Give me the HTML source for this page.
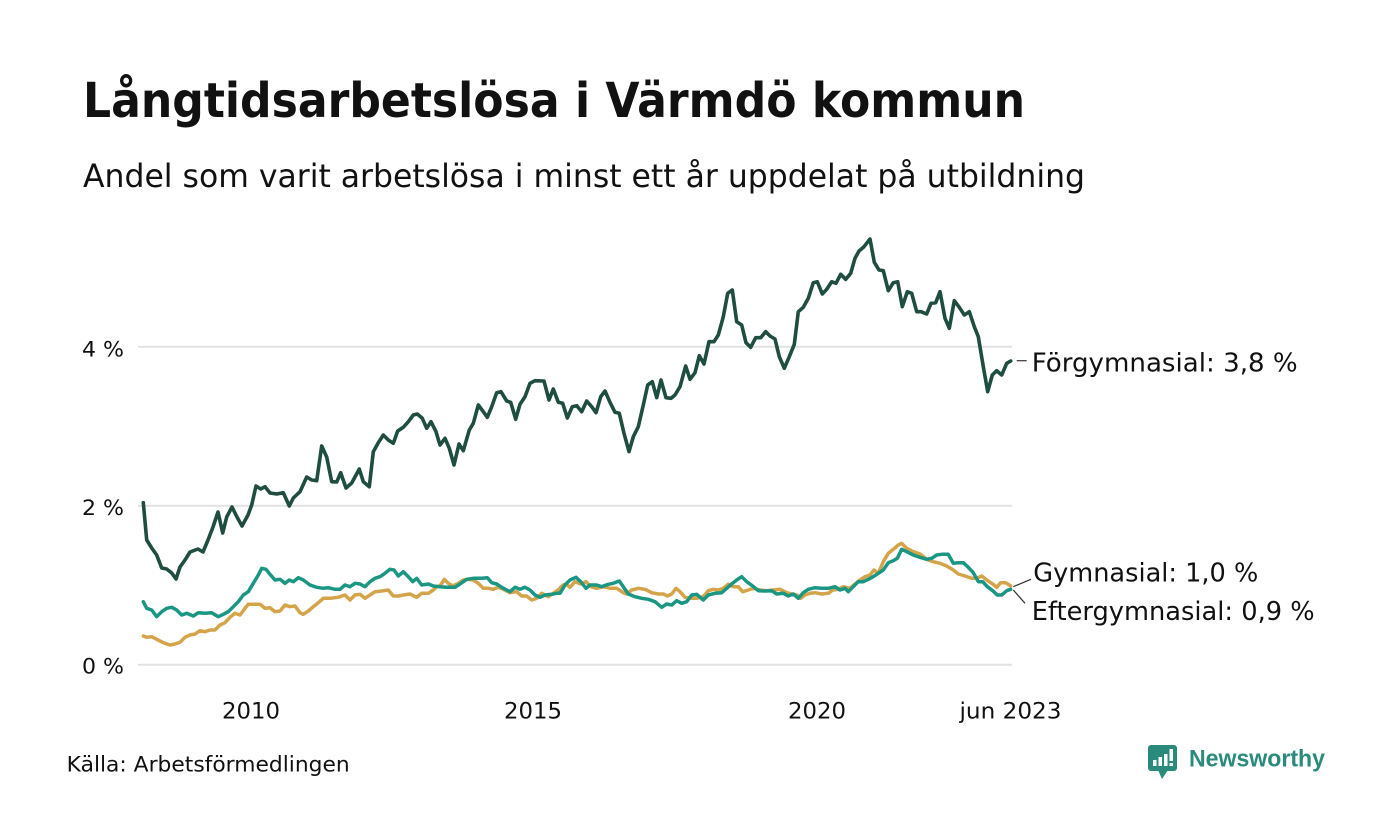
<!DOCTYPE html>
<html>
<head>
<meta charset="utf-8">
<style>
  html, body { margin:0; padding:0; background:#ffffff; }
  svg { display:block; }
  text { font-family: "DejaVu Sans", "Liberation Sans", sans-serif; fill:#111111; }
</style>
</head>
<body>
<svg width="1400" height="840" viewBox="0 0 1400 840" xmlns="http://www.w3.org/2000/svg">
  <rect x="0" y="0" width="1400" height="840" fill="#ffffff"/>

  <!-- Title & subtitle -->
  <text x="83" y="117" font-size="48" font-weight="bold" textLength="942" lengthAdjust="spacingAndGlyphs">Långtidsarbetslösa i Värmdö kommun</text>
  <text x="83" y="187" font-size="32" textLength="1002" lengthAdjust="spacingAndGlyphs">Andel som varit arbetslösa i minst ett år uppdelat på utbildning</text>

  <!-- Gridlines -->
  <g stroke="#e2e2e2" stroke-width="2">
    <line x1="138" y1="346.7" x2="1012" y2="346.7"/>
    <line x1="138" y1="505.7" x2="1012" y2="505.7"/>
    <line x1="138" y1="664.7" x2="1012" y2="664.7"/>
  </g>

  <!-- Y labels -->
  <g font-size="21">
    <text x="82" y="356.7" textLength="42" lengthAdjust="spacingAndGlyphs">4 %</text>
    <text x="82" y="515" textLength="42" lengthAdjust="spacingAndGlyphs">2 %</text>
    <text x="82" y="673.3" textLength="42" lengthAdjust="spacingAndGlyphs">0 %</text>
  </g>

  <!-- X labels -->
  <g font-size="22">
    <text x="222" y="718.3" textLength="58" lengthAdjust="spacingAndGlyphs">2010</text>
    <text x="504" y="718.3" textLength="58" lengthAdjust="spacingAndGlyphs">2015</text>
    <text x="788" y="718.3" textLength="58" lengthAdjust="spacingAndGlyphs">2020</text>
    <text x="959.5" y="718.3" textLength="102" lengthAdjust="spacingAndGlyphs">jun 2023</text>
  </g>

  <!-- Gold: Gymnasial -->
  <polyline fill="none" stroke="#d4a44a" stroke-width="3.5" stroke-linejoin="round" stroke-linecap="round"
    points="143.3,636 146.7,637.3 151.7,636.7 156.7,639.3 163.3,642.7 170,645 175,644 180,642.3 185,637.3 190,635 195,634 200,630.7 205,631.7 210,630 215,630 220,625 225,622.7 230,617.3 235,613.3 240,615 245,608.3 248.3,604.3 253.3,604.3 260,604.3 265,608.3 270,607.7 275,611.7 280,611 285,605 290,606.7 295,606 300,612.7 303.3,614.3 308.3,611 313.3,606.7 318.3,602.7 323.3,598.3 330,598.3 338.3,597.3 345,595 350,600 355,595 360,594.3 365,598.3 370,595 375,591.7 381.7,591 388.3,590 393.3,596 398.3,596 403.3,595 410,594 416.7,597.3 421.7,593.3 428.3,593.3 433.3,590 436.7,586.7 440,586 444.3,579.3 448.3,583.3 452.7,586 458.3,583.3 463.3,580 468.3,579.3 473.3,580 478.3,583.3 483.3,588.3 488.3,588.3 493.3,589.3 498.3,587.3 503.3,589.3 510,592.7 516.7,591.7 521.7,596 526.7,596 531.7,600 536.7,598.3 541.7,593.3 548.3,596.7 553.3,593.3 558.3,590 563,585 566,584 570,587.3 575,581.7 580.7,584 586,581.7 590.7,586.7 596.7,588.3 603.3,586.7 610,588.3 616.7,588.3 623.3,592.7 626.7,594 631.7,590 638.3,588.3 645,589.3 651.7,592.7 658.3,594 663.3,594 667.3,596 671.7,594 676,588.3 680,591.7 685,597.3 690,598.3 696.7,598.3 703.3,596.7 708.3,590.7 713.3,589.3 718.3,590 723.3,588.3 728.3,584.3 733.3,586.7 738.3,586.7 742.7,591.7 748.3,590 753.3,588.3 760,590 766.7,590.7 773.3,590 780,589.3 786.7,592.7 791.7,594 796.7,595 800.7,598.3 805,595 810,593.3 815,592.7 821.7,594 828.3,593.3 832.7,590 838.3,589.3 843.3,586.7 850,588.3 855,584 860,580 865,576.7 870,575 874,570 878.3,573.3 883.3,561.7 888.3,553.3 893.3,549.3 898.3,545 901.7,543.3 906.7,548.3 913.3,551.7 920,554 926.7,559.3 933.3,561.7 940,563.3 946.7,566 953.3,570 958.3,574 965,576 971.7,578.3 976.7,578.3 981.7,576 986.7,580 991.7,583.3 996.7,587.3 1000.7,582.7 1005.7,582.7 1010.7,586"/>

  <!-- Teal: Eftergymnasial -->
  <polyline fill="none" stroke="#1a9683" stroke-width="3.5" stroke-linejoin="round" stroke-linecap="round"
    points="143.3,601.7 146.7,608.3 151.7,610 156.7,616.7 161.7,611.7 166.7,608.3 171.7,607.3 176.7,610 181.7,615 186.7,613.3 193.3,616 198.3,612.7 205,613.3 211.7,612.7 218.3,616.7 223.3,614.3 228.3,611.7 233.3,606.7 238.3,601.7 243.3,595 248.3,591.7 253.3,583.3 258.3,575 261.7,568.3 266,569.3 270,574.3 275,580 280,579.3 285,583.3 289.3,580 293.3,581.7 298.3,577.7 303.3,580 310,585 316.7,587.3 323.3,588.3 328.3,587.7 335,589.3 340,589.3 345,585 350,586.7 355,583.3 360,584 365,586.7 370,581.7 375,578.3 380,576.7 385,573.3 390,569.3 394,570 398.3,576 403.3,571.7 408.3,576.7 412.7,581.7 416.7,578.3 421.7,585 428.3,584 433.3,586 440,586.7 446.7,587.3 455,587.3 460,584 466.7,579.3 473.3,578.3 481.7,578.3 487.3,577.7 491.7,582.7 496.7,584 501.7,587.3 510,591.7 515,587.3 520,589.3 525,587.3 530,590 535,595 540,597.3 545,595 551.7,594.3 556.7,593.3 560,593.3 565,585 570,580 576,577.3 580.7,581.7 586,588.3 590,585 596.7,585 601.7,586.7 608.3,584.3 613.3,583.3 619.3,581 623.3,586.7 628.3,594 635,596.7 641.7,598.3 648.3,599.3 655,601.7 661.7,607.3 666.7,604 671.7,605 676.7,600.7 681.7,603.3 686.7,601.7 691.7,595 696.7,594.3 703.3,600 708.3,595 715,593.3 721.7,592.7 726.7,588.3 731.7,584 736.7,580 741.7,576.7 746.7,581.7 752.7,586 758.3,590.7 765,591 771.7,590.7 776.7,594 783.3,593.3 788.3,596 793.3,594 798.3,598.3 803.3,592.7 808.3,589.3 815,587.7 821.7,588.3 828.3,588.3 835,586.7 840,590 845,588.3 848.3,591.7 853.3,586.7 858.3,581.7 863.3,581.7 868.3,579.3 873.3,576.7 878.3,573.3 883.3,570 888.3,562.7 893.3,560.7 897.3,558.3 901.7,549.3 906.7,551.7 913.3,555 920,557.3 926.7,559.3 931.7,558.3 936.7,555 941.7,554.3 948.3,554.3 953.3,563.3 958.3,562.7 963.3,562.7 968.3,567.3 973.3,572.7 978.3,581.7 982.7,581.7 987.3,586.7 992.7,590.7 997.3,595 1001.7,595 1006.7,590.7 1010.7,589.3"/>

  <!-- Dark: Förgymnasial -->
  <polyline fill="none" stroke="#1f4d40" stroke-width="3.6" stroke-linejoin="round" stroke-linecap="round"
    points="143.3,502.7 146.7,540 151.7,548 156.7,555 161.7,568 166.7,569 171.7,573 176,579 180,567 185,560 190,552 198,549 203,552 208,540 213,527 218,512 222.7,533 226.7,517 232,507 237,517 242,526 248,515 251.7,505 256,486 260.7,489 265,486.7 270,493 276.7,494 283.3,492.7 289.3,506 293.3,498 300,491.7 306.7,477 311.7,480 316.7,480.7 321.7,446 326.7,457 331.7,481.7 336.7,482 340.7,472.7 346,488 351.7,483 359.3,469 363.3,481.7 369.3,486.7 373.3,451.7 378.3,442.7 383.3,435 388.3,440 393.3,443.3 397.7,431 403.3,427.3 408.3,421.7 413.3,415 417.3,414 422.3,418.3 426.7,428.3 431,421.7 436,431.7 440,445 445,438.3 449.3,448.3 454,465 459,444 463.3,450.7 469.3,430 473.3,423.3 478.3,405 483.3,411.7 487.3,417.3 491.7,406.7 496.7,392.7 501,391.7 506.7,401 510.7,402.3 515.7,419.3 520,404.3 525,396.7 530,383.3 535,380.7 544,381 549,400 553.3,389 558.3,402.3 562.7,403.3 567.3,418 572.3,406.7 576.7,405.7 581.7,411.7 586.7,401 591.7,406.7 596,412.7 600.7,396.7 605,391 610,402.3 615,412.3 619.3,413.3 624,433.3 629,451.7 633.3,436.7 638.3,426.7 643.3,405 647.7,385 652.3,381.7 656.7,397.7 661,380 666,397.7 671,398.3 675,395 680,386.7 685.7,366 690,379.3 695,372.7 699.3,355.7 704,364 709,341.7 714,341.7 718.3,335 723.3,316.7 727.7,293.3 732.3,290 736.7,321.7 741.7,325 746,342.7 750.7,347.3 755.7,337.7 760.7,337.7 765.7,331.7 770,336 775,339 779.3,356.7 784.3,368.3 789.3,356.7 794.3,344.3 798.3,311.7 803.3,307.3 808.3,298.3 813.3,282.7 817.3,281.7 822.3,294 826.7,289.3 831.7,281.7 836,283.3 840.7,274.3 845.7,279.3 850.7,273.3 855,258.3 859,251 864,246.7 870,239 874.3,262.3 879,270 883.3,270.7 888.3,290.7 893.3,282.7 897.7,281.7 902.3,306.7 907.3,291.7 911.7,293.3 916.7,311.7 921,311.7 926.7,314 931,303.3 935.7,302.7 940,291.7 945,318.3 949.3,328.3 954.3,300.7 959.3,307.3 964.3,315 969.3,311.7 974.3,326.7 978.3,336.7 983.3,366.7 987.7,391.7 992.3,375 996.7,370.7 1001.7,375 1006.7,363.3 1010.7,361"/>

  <!-- Connectors -->
  <g stroke="#333333" stroke-width="1.2" fill="none">
    <line x1="1016.7" y1="360.7" x2="1026.7" y2="360.7"/>
    <line x1="1013.3" y1="586.7" x2="1031" y2="579.3"/>
    <line x1="1013.3" y1="590" x2="1025" y2="603.3"/>
  </g>

  <!-- Series labels -->
  <g font-size="26">
    <text x="1031.7" y="371.7" textLength="266" lengthAdjust="spacingAndGlyphs">Förgymnasial: 3,8 %</text>
    <text x="1033.3" y="581.7" textLength="225" lengthAdjust="spacingAndGlyphs">Gymnasial: 1,0 %</text>
    <text x="1031.7" y="620" textLength="283" lengthAdjust="spacingAndGlyphs">Eftergymnasial: 0,9 %</text>
  </g>

  <!-- Source -->
  <text x="66.7" y="771.7" font-size="21" textLength="283" lengthAdjust="spacingAndGlyphs">Källa: Arbetsförmedlingen</text>

  <!-- Newsworthy logo -->
  <g>
    <rect x="1148" y="745" width="29" height="26" rx="3" fill="#2a8a7c"/>
    <polygon points="1158,770 1168,770 1162,779" fill="#2a8a7c"/>
    <rect x="1153" y="760" width="3.5" height="6" fill="#ffffff"/>
    <rect x="1158.5" y="757" width="3.5" height="9" fill="#ffffff"/>
    <rect x="1164" y="754" width="3.5" height="12" fill="#ffffff"/>
    <rect x="1169.5" y="749" width="3.5" height="12" fill="#ffffff"/>
    <rect x="1169.5" y="763" width="3.5" height="3" fill="#ffffff"/>
  </g>
  <text x="1189" y="766.7" font-size="24" font-weight="bold" style="font-family:'Liberation Sans', sans-serif; fill:#2a8a7c" textLength="136" lengthAdjust="spacingAndGlyphs">Newsworthy</text>
</svg>
</body>
</html>
